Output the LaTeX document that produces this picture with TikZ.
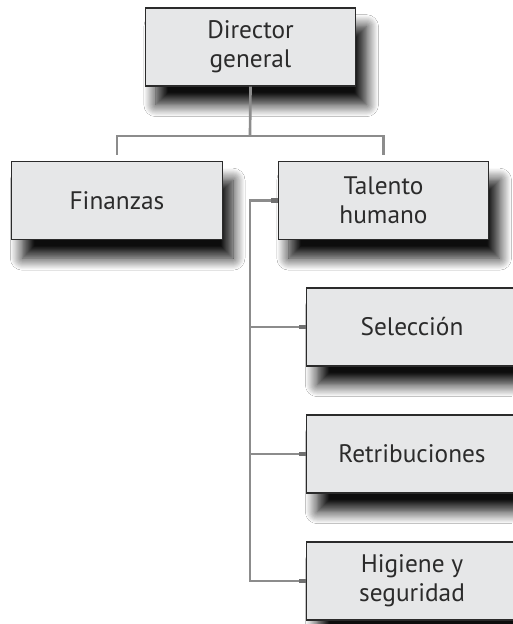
\documentclass[tikz,border=0pt]{standalone}
\usepackage{fontspec}
\setmainfont{PT Sans}
\usetikzlibrary{shadows.blur}
\definecolor{relleno}{HTML}{E6E7E8}
\definecolor{borde}{HTML}{2B2B2B}
\definecolor{conector}{HTML}{8C8C8C}
\begin{document}
\begin{tikzpicture}[x=0.75pt, y=-0.75pt,
      every node/.style={font=\fontsize{19}{22}\selectfont, align=center, text=borde},
      caja/.style={draw=borde, line width=0.9pt, fill=relleno, minimum width=158pt, minimum height=58.5pt, inner sep=0pt,
        blur shadow={shadow xshift=8pt, shadow yshift=-14pt, shadow blur radius=9pt, shadow opacity=95, shadow blur steps=12}},
      linea/.style={draw=conector, line width=2pt},
      stub/.style={draw=conector!80!black, line width=3.5pt}
    ]
    \useasboundingbox (0,0) rectangle (512,624);
    \fill[white] (0,0) rectangle (512,624);
    \node[caja] (dir) at (250.5,47)  {Director\\general};
    \node[caja] (fin) at (117,200.5) {Finanzas};
    \node[caja] (th)  at (383.5,200.5) {Talento\\humano};
    \node[caja] (sel) at (412,327)   {Selección};
    \node[caja] (ret) at (412,454)   {Retribuciones};
    \node[caja] (hig) at (412,581)   {Higiene y\\seguridad};
    % conectores
    \coordinate (bus) at (250,136);
    \coordinate (tronco) at (250,200.5);
    \draw[linea] (dir.south) -- (bus);
    \draw[linea, shorten >=4.5pt] (bus) -| (fin.north);
    \draw[linea, shorten >=4.5pt] (bus) -| (th.north);
    \draw[linea] (th.west) -- (tronco) |- (hig.west);
    \foreach \n in {sel,ret} \draw[linea] (tronco) |- (\n.west);
    \foreach \n in {th,sel,ret,hig} \draw[stub] (\n.west) -- ++(-7,0);
  \end{tikzpicture}
\end{document}
